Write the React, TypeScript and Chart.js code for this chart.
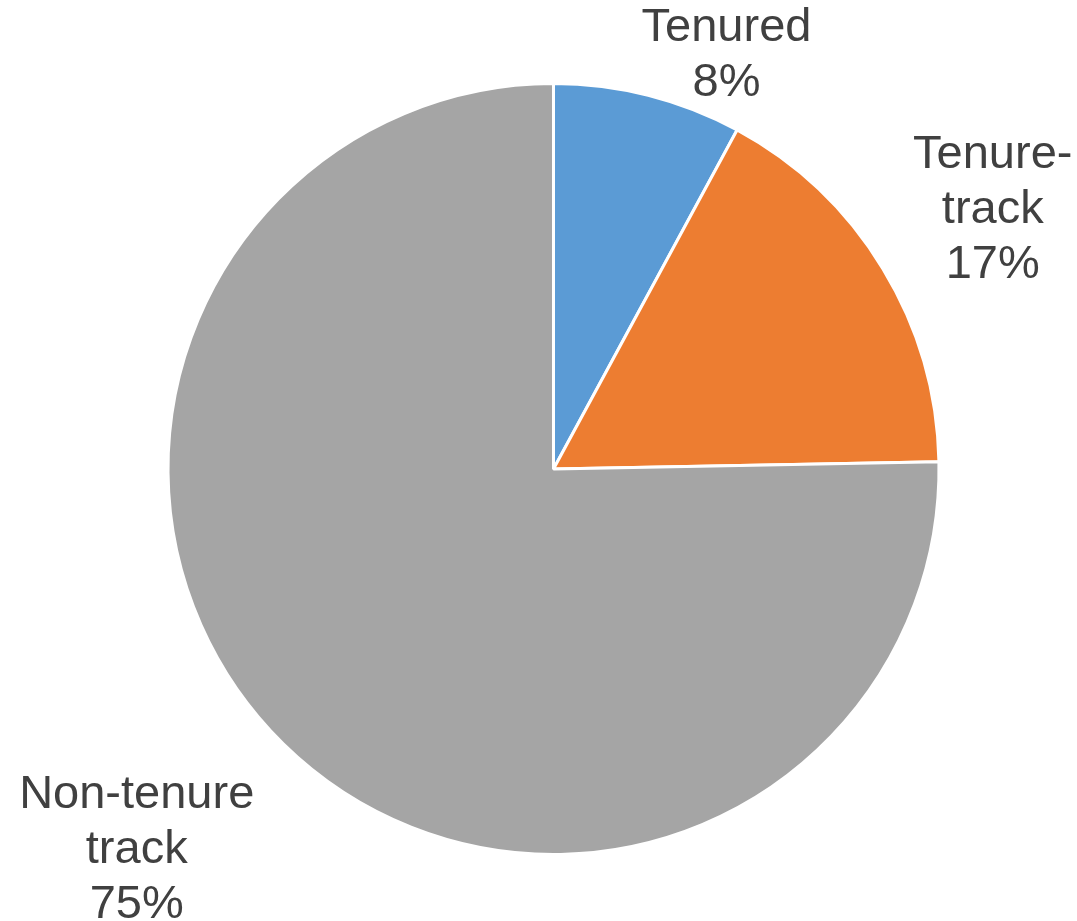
import React, { useEffect, useRef } from "react";
import { Chart, registerables } from "chart.js";

Chart.register(...registerables);

const categories = ["Tenured", "Tenure-track", "Non-tenure track"];
const values = [7.9, 16.8, 75.3];
const labelLines = [["Tenured", "8%"], ["Tenure-", "track", "17%"], ["Non-tenure", "track", "75%"]];
const colors = ["#5B9BD5", "#ED7D31", "#A5A5A5"];
// label anchor (first baseline) relative to pie centre in units of radius
const labelAnchors = [
  [0.447, -1.106],
  [1.135, -0.779],
  [-1.077, 0.875],
];

const labelPlugin = {
  id: "pieLabels",
  afterDraw(chart: any) {
    const meta = chart.getDatasetMeta(0);
    const arc = meta.data[0];
    if (!arc) return;
    const { x, y, outerRadius } = arc.getProps(["x", "y", "outerRadius"], true);
    const r = outerRadius + 1.5;
    const ctx = chart.ctx;
    ctx.save();
    ctx.font = "47px 'Liberation Sans', Arial, sans-serif";
    ctx.fillStyle = "#404040";
    ctx.textAlign = "center";
    ctx.textBaseline = "alphabetic";
    labelLines.forEach((lines, i) => {
      const ax = x + labelAnchors[i][0] * r;
      const ay = y + labelAnchors[i][1] * r;
      lines.forEach((t, j) => ctx.fillText(t, ax, ay + j * 55));
    });
    ctx.restore();
  },
};

export default function App() {
  const ref = useRef<HTMLCanvasElement>(null);
  useEffect(() => {
    const chart = new Chart(ref.current!, {
      type: "pie",
      data: {
        labels: categories,
        datasets: [
          {
            data: values,
            backgroundColor: colors,
            borderColor: "#FFFFFF",
            borderWidth: 3,
          },
        ],
      },
      options: {
        animation: false,
        responsive: true,
        maintainAspectRatio: false,
        layout: { padding: { left: 166, top: 82, right: 136, bottom: 65 } },
        plugins: { legend: { display: false }, tooltip: { enabled: false } },
      },
      plugins: [labelPlugin],
    });
    return () => chart.destroy();
  }, []);
  return (
    <div style={{ position: "absolute", left: 0, top: 0, width: 1077, height: 921, background: "#fff" }}>
      <canvas ref={ref} />
    </div>
  );
}
